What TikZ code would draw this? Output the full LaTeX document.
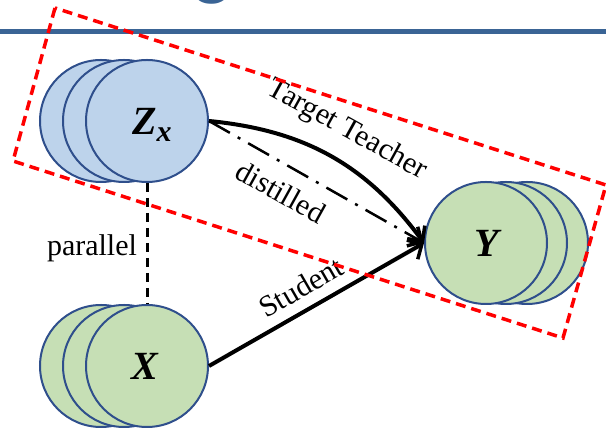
\documentclass[tikz,border=0pt]{standalone}
\usepackage{fontspec}
\setmainfont{Liberation Serif}
\newfontfamily\titlefont{Carlito}
\usetikzlibrary{arrows.meta}
\definecolor{blueFill}{HTML}{BDD3EB}
\definecolor{greenFill}{HTML}{C6DFB5}
\definecolor{ringLine}{HTML}{2F4F8C}
\definecolor{titleBlue}{HTML}{3A6495}
\tikzset{
  layer/.style={circle, minimum size=122pt, inner sep=0pt, draw=ringLine, line width=2pt},
  bluelayer/.style={layer, fill=blueFill},
  greenlayer/.style={layer, fill=greenFill},
  varlabel/.style={font=\fontsize{40}{40}\selectfont\bfseries\itshape, inner sep=0pt, anchor=base},
  edgelabel/.style={font=\fontsize{30}{30}\selectfont, inner sep=0pt},
  tip/.style={-{Straight Barb[length=11pt,width=22pt,line width=3.5pt]}},
  mainarrow/.style={tip, line width=4pt},
  distarrow/.style={tip, line width=2.5pt, dash pattern=on 24pt off 9pt on 3pt off 9pt},
  parline/.style={line width=3pt, dash pattern=on 9pt off 6pt},
  redbox/.style={draw=red, line width=3.5pt, dash pattern=on 10pt off 6pt}
}
\begin{document}
\begin{tikzpicture}[x=1pt,y=1pt]
\useasboundingbox (0,0) rectangle (606,433);
% title remnant and bar
\node[anchor=base, inner sep=0pt, text=titleBlue, font=\titlefont\fontsize{80}{80}\selectfont] (gtitle) at (212,442) {g};
\fill[titleBlue] (0,398.5) rectangle (606,403.5);
% Z_x stack
\node[bluelayer] (z3) at (101,312) {};
\node[bluelayer] (z2) at (124,312) {};
\node[bluelayer] (z1) at (147,312) {};
\node[varlabel] (zl) at (152,298) {Z\raisebox{-7pt}{\fontsize{30}{30}\selectfont x}};
% X stack
\node[greenlayer] (x3) at (101,67) {};
\node[greenlayer] (x2) at (124,67) {};
\node[greenlayer] (x1) at (147,67) {};
\node[varlabel] (xl) at (145,53) {X};
% Y stack
\node[greenlayer] (y3) at (527,190) {};
\node[greenlayer] (y2) at (506,190) {};
\node[greenlayer] (y1) at (486,190) {};
\node[varlabel] (yl) at (487,176) {Y};
% connectors
\draw[parline] (z1.south) -- (x1.north);
\draw[mainarrow] (z1.east) to[bend left=24] (y1.west);
\draw[distarrow] (z1.east) -- (y1.west);
\draw[mainarrow] (x1.east) -- (y1.west);
% labels
\node[edgelabel] (lpar) at (92,185) {parallel};
\node[edgelabel, rotate=-29] (lteach) at (347,303) {Target Teacher};
\node[edgelabel, rotate=-29] (ldist) at (281,241) {distilled};
\node[edgelabel, rotate=30] (lstud) at (301,146) {Student};
% red dashed box
\coordinate (rTL) at (55,425);
\coordinate (rBL) at (13,272);
\coordinate (rBR) at (563,95);
\coordinate (rTR) at (606,248);
\draw[redbox] (rTL) -- (rBL) -- (rBR) -- (rTR) -- cycle;
\end{tikzpicture}
\end{document}
